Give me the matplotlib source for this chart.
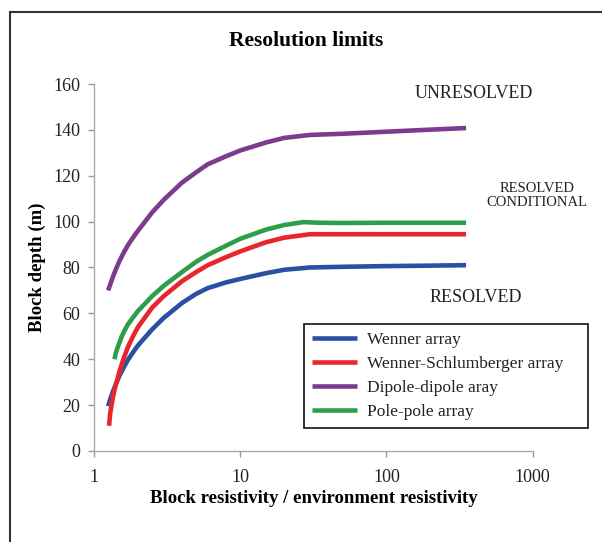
import matplotlib.pyplot as plt
from matplotlib.patches import Rectangle

# values
wenner_x = [1.25, 1.3, 1.35, 1.42, 1.5, 1.6, 1.7, 1.85, 2.0, 2.5, 3.0, 4.0, 5.0, 6.0, 8.0, 10, 15, 20, 30, 50, 100, 200, 350]
wenner_y = [19.5, 23, 26, 29.5, 33, 36.5, 39.5, 43, 46, 53, 58, 64.5, 68.5, 71, 73.5, 75, 77.5, 79, 80, 80.3, 80.6, 80.8, 81]

ws_x = [1.27, 1.29, 1.32, 1.36, 1.4, 1.45, 1.5, 1.6, 1.7, 1.85, 2.0, 2.5, 3.0, 4.0, 5.0, 6.0, 8.0, 10, 15, 20, 30, 50, 100, 350]
ws_y = [11, 16, 20, 24.5, 28, 31.5, 35, 40.5, 45, 50, 54, 62.5, 67.5, 74, 78, 81, 84.5, 87, 91, 93, 94.5, 94.5, 94.5, 94.5]

dd_x = [1.25, 1.3, 1.35, 1.42, 1.5, 1.6, 1.7, 1.85, 2.0, 2.5, 3.0, 4.0, 5.0, 6.0, 8.0, 10, 15, 20, 30, 50, 100, 200, 350]
dd_y = [70, 73, 76, 79.5, 83, 86.5, 89.5, 93, 96, 104, 109.5, 117, 121.5, 125, 128.5, 131, 134.5, 136.5, 137.8, 138.3, 139.2, 140.1, 140.8]

pp_x = [1.38, 1.41, 1.45, 1.5, 1.55, 1.62, 1.7, 1.85, 2.0, 2.5, 3.0, 4.0, 5.0, 6.0, 8.0, 10, 15, 20, 27, 35, 50, 100, 350]
pp_y = [40, 42.5, 45, 47.5, 50, 52.5, 55, 58.2, 61, 67.5, 72, 78, 82.5, 85.5, 89.5, 92.5, 96.5, 98.5, 99.8, 99.5, 99.4, 99.5, 99.5]

series = [
    ("Wenner array", wenner_x, wenner_y, "#2b4fa3"),
    ("Wenner-Schlumberger array", ws_x, ws_y, "#e8262c"),
    ("Dipole-dipole aray", dd_x, dd_y, "#7d3a8f"),
    ("Pole-pole array", pp_x, pp_y, "#2f9e4a"),
]

plt.rcParams['font.family'] = ['Liberation Serif', 'DejaVu Serif']

fig = plt.figure(figsize=(6.02, 5.42), dpi=100)
ax = fig.add_axes([0.156, 0.168, 0.729, 0.677])

for name, xs, ys, col in series:
    ax.plot(xs, ys, color=col, lw=3.3, label=name, solid_capstyle='butt', solid_joinstyle='round')

ax.set_xscale('log')
ax.set_xlim(1, 1000)
ax.set_ylim(0, 160)
ax.set_yticks(range(0, 161, 20))
ax.set_xticks([1, 10, 100, 1000])
ax.set_xticklabels(['1', '10', '100', '1000'])
ax.minorticks_off()
ax.tick_params(axis='both', labelsize=13, colors='#999999', labelcolor='#222222', length=4, width=1)
ax.tick_params(axis='x', pad=9)
ax.tick_params(axis='y', pad=6)

for s in ['top', 'right']:
    ax.spines[s].set_visible(False)
for s in ['left', 'bottom']:
    ax.spines[s].set_color('#aaaaaa')
    ax.spines[s].set_linewidth(1)

ax.set_xlabel("Block resistivity / environment resistivity", fontsize=13.5, fontweight='bold', labelpad=3)
ax.set_ylabel("Block depth (m)", fontsize=13.5, fontweight='bold', labelpad=5)
fig.text(0.508, 1 - 41 / 542, "Resolution limits", ha='center', va='center', fontsize=15.5, fontweight='bold')

fig.text(474 / 602, 1 - 93 / 542, "UNRESOLVED", ha='center', va='center', fontsize=13, color='#222222')
fig.text(537 / 602, 1 - 195 / 542, "RESOLVED\nCONDITIONAL", ha='center', va='center', fontsize=10.5,
         color='#222222', linespacing=1.1)
fig.text(476 / 602, 1 - 298 / 542, "RESOLVED", ha='center', va='center', fontsize=13, color='#222222')

leg = ax.legend(loc='upper left', bbox_to_anchor=(304 / 602, 1 - 430 / 542, 284 / 602, 106 / 542),
                bbox_transform=fig.transFigure, mode='expand', fancybox=False, framealpha=1,
                edgecolor='#111111', fontsize=12.5, handlelength=2.6, handletextpad=0.6,
                labelspacing=0.45, borderaxespad=0, borderpad=0.45)
leg.get_frame().set_linewidth(1.2)
for t in leg.get_texts():
    t.set_color('#222222')

# outer frame around the figure
fig.patches.append(Rectangle((10 / 602, -0.05), 1.1, 1 - 12 / 542 + 0.05, transform=fig.transFigure,
                             fill=False, edgecolor='#333333', lw=1.5))

fig.savefig("out.png", dpi=100)
